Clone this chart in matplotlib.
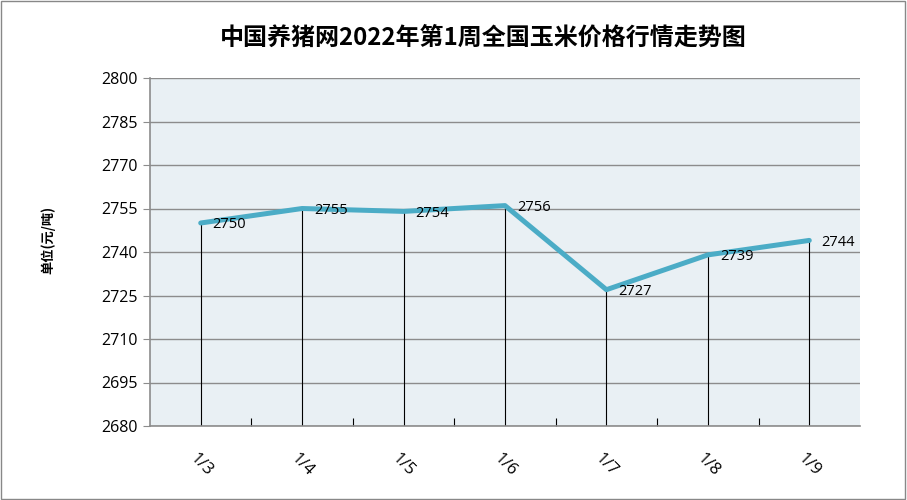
import matplotlib
matplotlib.use("Agg")
import matplotlib.pyplot as plt
from matplotlib.patches import Rectangle

plt.rcParams['font.family'] = ['Noto Sans CJK SC', 'DejaVu Sans']

categories = ["1/3", "1/4", "1/5", "1/6", "1/7", "1/8", "1/9"]
prices = [2750, 2755, 2754, 2756, 2727, 2739, 2744]
yticks = list(range(2680, 2801, 15))
title = "中国养猪网2022年第1周全国玉米价格行情走势图"
ylabel = "单位(元/吨)"

fig = plt.figure(figsize=(9.07, 5.0), dpi=100)
fig.patches.append(Rectangle((0.001, 0.002), 0.997, 0.996, transform=fig.transFigure,
                             fill=False, edgecolor="#888888", linewidth=1.0))
ax = fig.add_axes([150/907, 74/500, 710/907, 348/500])
ax.set_facecolor("#E9F0F4")

x = list(range(len(categories)))
ax.set_xlim(-0.5, len(categories) - 0.5)
ax.set_ylim(2680, 2800)
ax.set_yticks(yticks)
ax.yaxis.grid(True, color="#8C8C8C", linewidth=1.0)
ax.set_axisbelow(True)

ax.vlines(x, 2680, prices, colors="black", linewidth=0.8, zorder=2)
ax.plot(x, prices, color="#4BACC6", linewidth=3.6, solid_capstyle="round", zorder=3)
for xi, v in zip(x, prices):
    ax.annotate(str(v), (xi, v), xytext=(12, -2), textcoords="offset pixels",
                ha="left", va="center", fontsize=10.5, family=["Open Sans", "DejaVu Sans"], zorder=4)

for s in ["top", "right"]:
    ax.spines[s].set_visible(False)
for s in ["left", "bottom"]:
    ax.spines[s].set_color("#8C8C8C")
    ax.spines[s].set_linewidth(1.2)

ax.set_xticks(x)
ax.set_xticklabels(categories, rotation=-45, ha="center", va="center",
                   fontsize=12, family=["Open Sans", "DejaVu Sans"])
ax.tick_params(axis="x", length=0, pad=28)
ax.set_xticks([i + 0.5 for i in x[:-1]], minor=True)
ax.tick_params(axis="x", which="minor", direction="in", length=6, color="black", width=0.8)
ax.tick_params(axis="y", length=5, color="#8C8C8C", labelsize=11.5, pad=4)
for lab in ax.get_yticklabels():
    lab.set_family(["Open Sans", "DejaVu Sans"])

fig.text(48/907, 1 - 240/500, ylabel, rotation=90, ha="center", va="center",
         fontsize=9.5, fontweight="bold")
fig.text(483/907, 1 - 38/500, title, ha="center", va="center",
         fontsize=17.3, fontweight="bold")

fig.savefig("out.png", dpi=100)
